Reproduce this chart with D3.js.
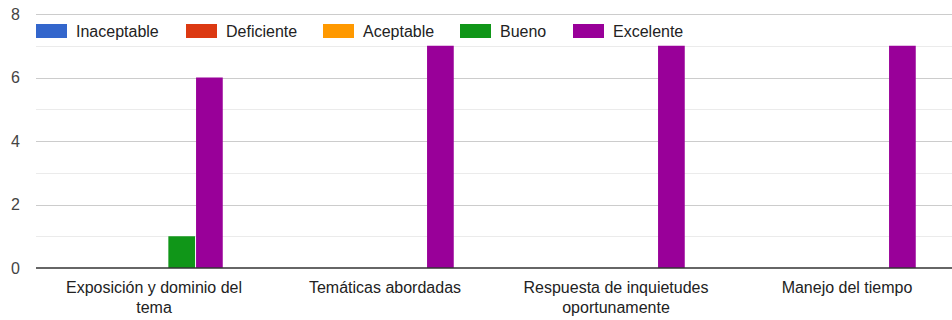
<!DOCTYPE html>
<html><head><meta charset="utf-8">
<script src="https://cdn.jsdelivr.net/npm/d3@7"></script>
<style>body{margin:0;background:#fff;overflow:hidden}svg{display:block;font-family:"Liberation Sans",Arial,sans-serif}</style>
</head><body><svg id="c" width="952" height="320"></svg>
<script>
const categories = ["Exposición y dominio del tema","Temáticas abordadas","Respuesta de inquietudes oportunamente","Manejo del tiempo"];
const categoryLines = [["Exposición y dominio del","tema"],["Temáticas abordadas"],["Respuesta de inquietudes","oportunamente"],["Manejo del tiempo"]];
const seriesNames = ["Inaceptable","Deficiente","Aceptable","Bueno","Excelente"];
const seriesColors = ["#3366cc","#dc3912","#ff9900","#109618","#990099"];
const inaceptable = [0,0,0,0];
const deficiente = [0,0,0,0];
const aceptable = [0,0,0,0];
const bueno = [1,0,0,0];
const excelente = [6,7,7,7];
const seriesValues = [inaceptable,deficiente,aceptable,bueno,excelente];
const yTicks = [0,2,4,6,8];
const yMinor = [1,3,5,7];

const svg = d3.select("#c");
const left = 36, right = 952;
const y = d3.scaleLinear().domain([0,8]).range([268,14]);
const x0 = d3.scaleBand().domain(categories).range([38.5,962.5]).paddingInner(0).paddingOuter(0);
const groupW = 27.7*5;
const x1 = d3.scaleBand().domain(seriesNames).range([0,groupW]);

// gridlines
svg.append("g").selectAll("line").data(yMinor).join("line")
  .attr("x1",left).attr("x2",right).attr("y1",d=>Math.round(y(d))+0.5).attr("y2",d=>Math.round(y(d))+0.5)
  .attr("stroke","#ebebeb");
svg.append("g").selectAll("line").data(yTicks.filter(d=>d>0)).join("line")
  .attr("x1",left).attr("x2",right).attr("y1",d=>Math.round(y(d))+0.5).attr("y2",d=>Math.round(y(d))+0.5)
  .attr("stroke","#cccccc");

// y labels
svg.append("g").selectAll("text").data(yTicks).join("text")
  .attr("x",20).attr("y",d=>y(d)+5.5).attr("text-anchor","end")
  .attr("font-size",16).attr("fill","#444").text(d=>d);

// bars
const flat = [];
categories.forEach((c,i)=>seriesNames.forEach((s,j)=>flat.push({c,s,j,v:seriesValues[j][i]})));
svg.append("g").selectAll("rect").data(flat.filter(d=>d.v>0)).join("rect")
  .attr("x",d=>x0(d.c)+x0.bandwidth()/2-groupW/2+x1(d.s)+0.5)
  .attr("width",x1.bandwidth()-1)
  .attr("y",d=>y(d.v)).attr("height",d=>y(0)-y(d.v))
  .attr("fill",d=>seriesColors[d.j]);

// baseline
svg.append("line").attr("x1",left).attr("x2",right).attr("y1",268).attr("y2",268)
  .attr("stroke","#333").attr("stroke-width",1.5);

// category labels
const cl = svg.append("g").selectAll("text").data(categories).join("text")
  .attr("text-anchor","middle").attr("font-size",16).attr("fill","#222")
  .attr("transform",d=>`translate(${x0(d)+x0.bandwidth()/2},293)`);
cl.each(function(d,i){
  d3.select(this).selectAll("tspan").data(categoryLines[i]).join("tspan")
    .attr("x",0).attr("dy",(t,k)=>k===0?0:20).text(t=>t);
});

// legend
const legX = [36,186,323,460,573];
const lg = svg.append("g").selectAll("g").data(seriesNames).join("g")
  .attr("transform",(d,i)=>`translate(${legX[i]},24)`);
lg.append("rect").attr("width",31).attr("height",14).attr("fill",(d,i)=>seriesColors[i]);
lg.append("text").attr("x",40).attr("y",13).attr("font-size",16).attr("fill","#222").text(d=>d);
</script></body></html>
